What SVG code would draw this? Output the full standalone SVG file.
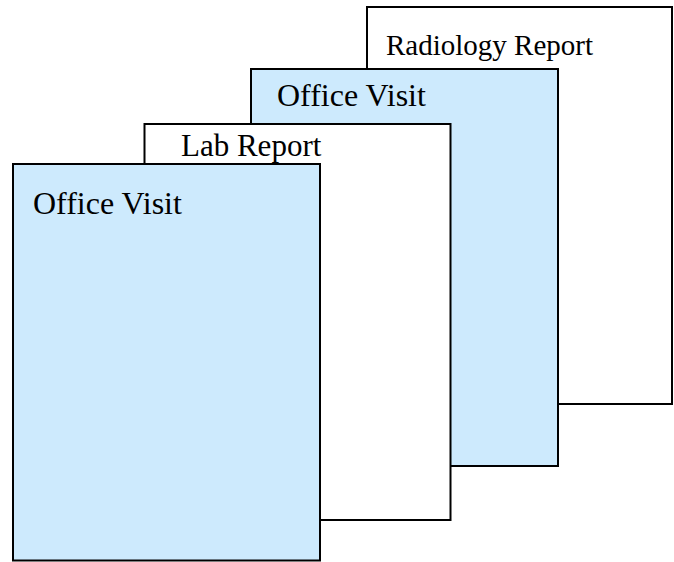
<svg xmlns="http://www.w3.org/2000/svg" width="674" height="562" viewBox="0 0 674 562">
<style>
.page{stroke:#000;stroke-width:2}
.white{fill:#fff}
.blue{fill:#cdeafd}
.t{font-family:"Liberation Serif","Times New Roman",serif;fill:#000}
</style>
<rect width="674" height="562" fill="#fff"/>
<g id="radiology">
<rect class="page white" x="367" y="7" width="305" height="397"/>
<text class="t" x="386" y="55" font-size="29">Radiology Report</text>
</g>
<g id="office-visit-back">
<rect class="page blue" x="251" y="69" width="307" height="397"/>
<text class="t" x="277" y="106" font-size="32">Office Visit</text>
</g>
<g id="lab-report">
<rect class="page white" x="144.5" y="124" width="306" height="396"/>
<text class="t" x="181" y="156" font-size="31">Lab Report</text>
</g>
<g id="office-visit-front">
<rect class="page blue" x="13" y="164" width="307" height="396.5"/>
<text class="t" x="33" y="214" font-size="32">Office Visit</text>
</g>
<g id="connectors"/>
</svg>
